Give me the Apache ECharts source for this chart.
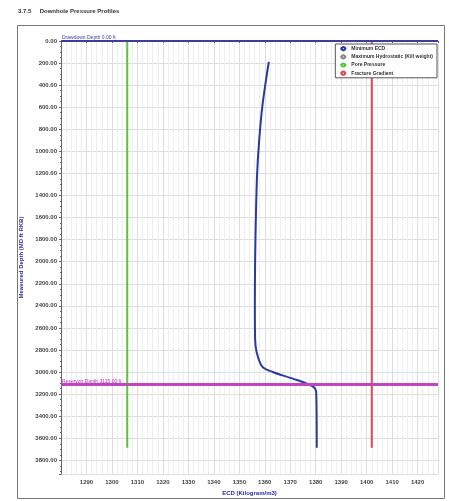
<!DOCTYPE html>
<html><head><meta charset="utf-8">
<script src="https://cdn.jsdelivr.net/npm/echarts@6/dist/echarts.min.js"></script>
<style>html,body{margin:0;padding:0;background:#fff}#c{width:449px;height:501px}</style>
</head><body><div id="c"></div>
<script>
// ---- data ----
const titleText = '3.7.5     Downhole Pressure Profiles';
const seriesNames = ['Minimum ECD', 'Maximum Hydrostatic (Kill weight)', 'Pore Pressure', 'Fracture Gradient'];
const ecdDepth = [188, 350, 600, 900, 1200, 1600, 2000, 2400, 2700, 2820, 2950, 3000, 3060, 3130, 3190, 3686];
const ecdValue = [1361.6, 1360.5, 1359.0, 1357.8, 1357.0, 1356.5, 1356.2, 1356.1, 1356.2, 1356.8, 1359.0, 1363.1, 1371.0, 1378.8, 1380.2, 1380.4];
const poreDepth = [0, 3686];
const poreValue = [1306, 1306];
const fracDepth = [0, 3686];
const fracValue = [1402, 1402];
const topDepth = 0;
const topLabel = 'Drawdown Depth 0.00 ft';
const reservoirDepth = 3115;
const reservoirLabel = 'Reservoir Depth 3115.00 ft';
const depthMin = 0, depthMax = 3925, depthStep = 200;
const ecdMin = 1280, ecdMax = 1428, ecdStep = 10;
const xName = 'ECD (Kilogram/m3)';
const yName = 'Measured Depth (MD ft RKB)';

const zip = (xs, ys) => xs.map((x, i) => [x, ys[i]]);
const chart = echarts.init(document.getElementById('c'));
const labelFont = {fontSize: 6, fontWeight: 'bold', color: '#444', fontFamily: 'Liberation Sans'};
chart.setOption({
  animation: false,
  graphic: [
    {type: 'rect', shape: {x: 17.5, y: 25.5, width: 427, height: 473}, style: {fill: 'none', stroke: '#777', lineWidth: 1}},
    {type: 'text', left: 18, top: 8, style: {text: titleText, font: 'bold 6px Liberation Sans', fill: '#333'}}
  ],
  grid: {left: 61, right: 11, top: 41, bottom: 23},
  legend: {
    orient: 'vertical', right: 12, top: 44, backgroundColor: '#fff', borderColor: '#555', borderWidth: 1,
    padding: [2, 4], itemGap: 3, itemWidth: 6, itemHeight: 4,
    textStyle: {fontSize: 5, fontWeight: 'bold', color: '#333', fontFamily: 'Liberation Sans'},
    data: seriesNames
  },
  xAxis: {
    type: 'value', min: ecdMin, max: ecdMax, interval: ecdStep,
    name: xName, nameLocation: 'middle', nameGap: 14,
    nameTextStyle: {fontSize: 6, fontWeight: 'bold', color: '#2a2aa0', fontFamily: 'Liberation Sans'},
    axisLine: {lineStyle: {color: '#666'}}, axisTick: {show: true, length: 2, lineStyle: {color: '#666'}},
    minorTick: {show: true, splitNumber: 5, length: 1},
    axisLabel: Object.assign({showMinLabel: false, showMaxLabel: false, margin: 5, formatter: v => String(v)}, labelFont),
    splitLine: {lineStyle: {color: '#ddd', width: 1}},
    minorSplitLine: {show: true, lineStyle: {color: '#eee'}}
  },
  yAxis: {
    type: 'value', inverse: true, min: depthMin, max: depthMax, interval: depthStep,
    name: yName, nameLocation: 'middle', nameGap: 30, nameRotate: 90,
    nameTextStyle: {fontSize: 6, fontWeight: 'bold', color: '#2a2aa0', fontFamily: 'Liberation Sans'},
    axisLine: {show: true, lineStyle: {color: '#666'}}, axisTick: {show: true, length: 2, lineStyle: {color: '#666'}},
    minorTick: {show: true, splitNumber: 4, length: 1},
    axisLabel: Object.assign({showMaxLabel: false, margin: 4, formatter: v => v.toFixed(2)}, labelFont),
    splitLine: {lineStyle: {color: '#ddd', width: 1}}
  },
  series: [
    {name: seriesNames[0], type: 'line', data: zip(ecdValue, ecdDepth), showSymbol: false, smooth: 0.3,
     lineStyle: {color: '#2b3aa0', width: 2}, itemStyle: {color: '#2b3aa0'},
     markLine: {symbol: 'none', silent: true, data: [
       {yAxis: topDepth, lineStyle: {color: '#3d3d9e', width: 2, type: 'solid'},
        label: {formatter: topLabel, position: 'insideStartTop', distance: 1, fontSize: 5, color: '#3d3d9e', fontFamily: 'Liberation Sans'}},
       {yAxis: reservoirDepth, lineStyle: {color: '#c344c0', width: 3, type: 'solid'},
        label: {formatter: reservoirLabel, position: 'insideStartTop', distance: 1, fontSize: 5, color: '#b030b0', fontFamily: 'Liberation Sans'}}
     ]}},
    {name: seriesNames[1], type: 'line', data: [], showSymbol: false, lineStyle: {color: '#888'}, itemStyle: {color: '#888'}},
    {name: seriesNames[2], type: 'line', data: zip(poreValue, poreDepth), showSymbol: false,
     lineStyle: {color: '#5cc43c', width: 2}, itemStyle: {color: '#5cc43c'}},
    {name: seriesNames[3], type: 'line', data: zip(fracValue, fracDepth), showSymbol: false,
     lineStyle: {color: '#d84a5a', width: 2}, itemStyle: {color: '#d84a5a'}}
  ]
});
</script></body></html>
